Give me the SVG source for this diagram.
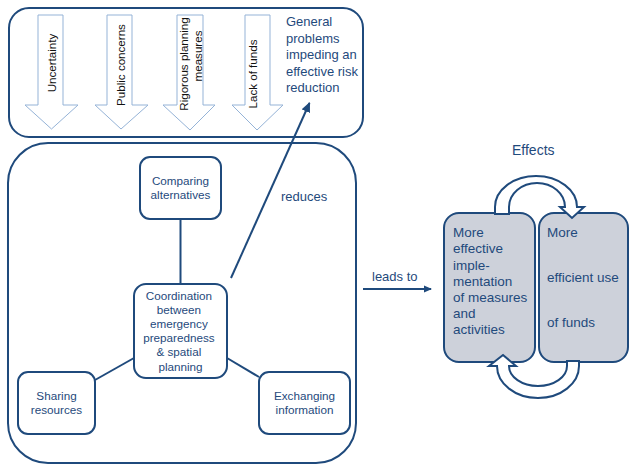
<svg xmlns="http://www.w3.org/2000/svg" width="629" height="464" viewBox="0 0 629 464">
<style>
.frame{fill:#fff;stroke:#1f4a7c;stroke-width:2}
.box{fill:#fff;stroke:#1f4a7c;stroke-width:2}
.gbox{fill:#cdd1da;stroke:#1f4a7c;stroke-width:2}
.down{fill:#fff;stroke:#95b3d7;stroke-width:1}
.curv{fill:#fff;stroke:#1f4a7c;stroke-width:2;stroke-linejoin:miter}
.t{font-family:"Liberation Sans",Arial,sans-serif;fill:#1f4a7c}
.bk{font-family:"Liberation Sans",Arial,sans-serif;fill:#111;font-size:11.6px;text-anchor:middle}
.c{text-anchor:middle;font-size:11.7px}
.g{font-size:13.5px}
.conn{stroke:#1f4a7c;stroke-width:2;fill:none}
</style>
<defs>
<marker id="ah" markerWidth="10" markerHeight="10" refX="9" refY="5" orient="auto" markerUnits="userSpaceOnUse">
<path d="M0,0.5 L10,5 L0,9.5 Z" fill="#1f4a7c"/>
</marker>
<marker id="ah2" markerWidth="8" markerHeight="8" refX="7" refY="4" orient="auto" markerUnits="userSpaceOnUse">
<path d="M0,0.5 L8,4 L0,7.5 Z" fill="#1f4a7c"/>
</marker>
</defs>
<rect width="629" height="464" fill="#fff"/>

<g id="problems">
<rect class="frame" x="9" y="8" width="354" height="129" rx="20"/>
<g id="arrow-uncertainty">
<path class="down" d="M38,15 L63,15 L63,105 L78,105 L51.5,129 L25,105 L38,105 Z"/>
<text class="bk" transform="translate(56,63) rotate(-90)">Uncertainty</text>
</g>
<g id="arrow-public">
<path class="down" d="M107,15 L132,15 L132,105 L148,105 L121,129 L95,105 L107,105 Z"/>
<text class="bk" transform="translate(125,65) rotate(-90)">Public concerns</text>
</g>
<g id="arrow-rigorous">
<path class="down" d="M177,15 L203,15 L203,105 L215,105 L190,130 L163,105 L177,105 Z"/>
<text class="bk" transform="translate(188,64) rotate(-90)">Rigorous planning</text>
<text class="bk" transform="translate(202,56) rotate(-90)">measures</text>
</g>
<g id="arrow-funds">
<path class="down" d="M245,15 L270,15 L270,105 L283,105 L257,130 L232,105 L245,105 Z"/>
<text class="bk" transform="translate(257,74) rotate(-90)">Lack of funds</text>
</g>
<text class="t" font-size="13px" x="286">
<tspan x="286" y="26">General</tspan>
<tspan x="286" y="42.5">problems</tspan>
<tspan x="286" y="59">impeding an</tspan>
<tspan x="286" y="75.5">effective risk</tspan>
<tspan x="286" y="92">reduction</tspan>
</text>
</g>

<g id="coordination-frame">
<rect class="frame" x="8" y="143" width="348" height="320" rx="40"/>
</g>

<g id="connectors">
<line class="conn" x1="180.5" y1="219" x2="180.5" y2="284"/>
<line class="conn" x1="95" y1="380" x2="134" y2="358"/>
<line class="conn" x1="227" y1="358" x2="259" y2="377"/>
<line class="conn" x1="231" y1="278" x2="309.5" y2="103" marker-end="url(#ah)"/>
<line class="conn" x1="363" y1="289" x2="431" y2="289" marker-end="url(#ah2)"/>
<text class="t" font-size="13px" x="281" y="201">reduces</text>
<text class="t" font-size="13px" x="372" y="281">leads to</text>
</g>

<g id="comparing">
<rect class="box" x="140" y="157" width="81" height="62" rx="10"/>
<text class="t c" x="180.5" y="185">Comparing</text>
<text class="t c" x="180.5" y="198.5">alternatives</text>
</g>

<g id="coordination">
<rect class="box" x="134" y="284" width="93" height="94" rx="12"/>
<text class="t c">
<tspan x="180.5" y="299.5">Coordination</tspan>
<tspan x="180.5" y="313.7">between</tspan>
<tspan x="180.5" y="327.9">emergency</tspan>
<tspan x="180.5" y="342.1">preparedness</tspan>
<tspan x="180.5" y="356.3">&amp; spatial</tspan>
<tspan x="180.5" y="370.5">planning</tspan>
</text>
</g>

<g id="sharing">
<rect class="box" x="18" y="372" width="77" height="62" rx="10"/>
<text class="t c" x="56.5" y="400">Sharing</text>
<text class="t c" x="56.5" y="413.5">resources</text>
</g>

<g id="exchanging">
<rect class="box" x="259" y="372" width="91" height="62" rx="10"/>
<text class="t c" x="304.5" y="400">Exchanging</text>
<text class="t c" x="304.5" y="413.5">information</text>
</g>

<g id="effects">
<text class="t" font-size="14px" x="512" y="155">Effects</text>
<g id="effective-implementation">
<rect class="gbox" x="444" y="213" width="91" height="149" rx="15"/>
<text class="t g">
<tspan x="453" y="237">More</tspan>
<tspan x="453" y="253">effective</tspan>
<tspan x="453" y="269.5">imple-</tspan>
<tspan x="453" y="285.5">mentation</tspan>
<tspan x="453" y="302">of measures</tspan>
<tspan x="453" y="318">and</tspan>
<tspan x="453" y="334">activities</tspan>
</text>
</g>
<g id="efficient-funds">
<rect class="gbox" x="539" y="213" width="89" height="149" rx="15"/>
<text class="t g">
<tspan x="547" y="237">More</tspan>
<tspan x="547" y="282">efficient use</tspan>
<tspan x="547" y="327">of funds</tspan>
</text>
</g>
<path class="curv" d="M495,214 L495,207 A41,31 0 0 1 577,207 L584,207 L572,218 L560,207 L565,207 A28,24 0 0 0 509,207 L509,214 Z"/>
<path class="curv" d="M579,361 L579,366 A41,32 0 0 1 497,366 L489,366 L503,355 L516,366 L509,366 A29,20 0 0 0 567,366 L567,361 Z"/>
</g>
</svg>
